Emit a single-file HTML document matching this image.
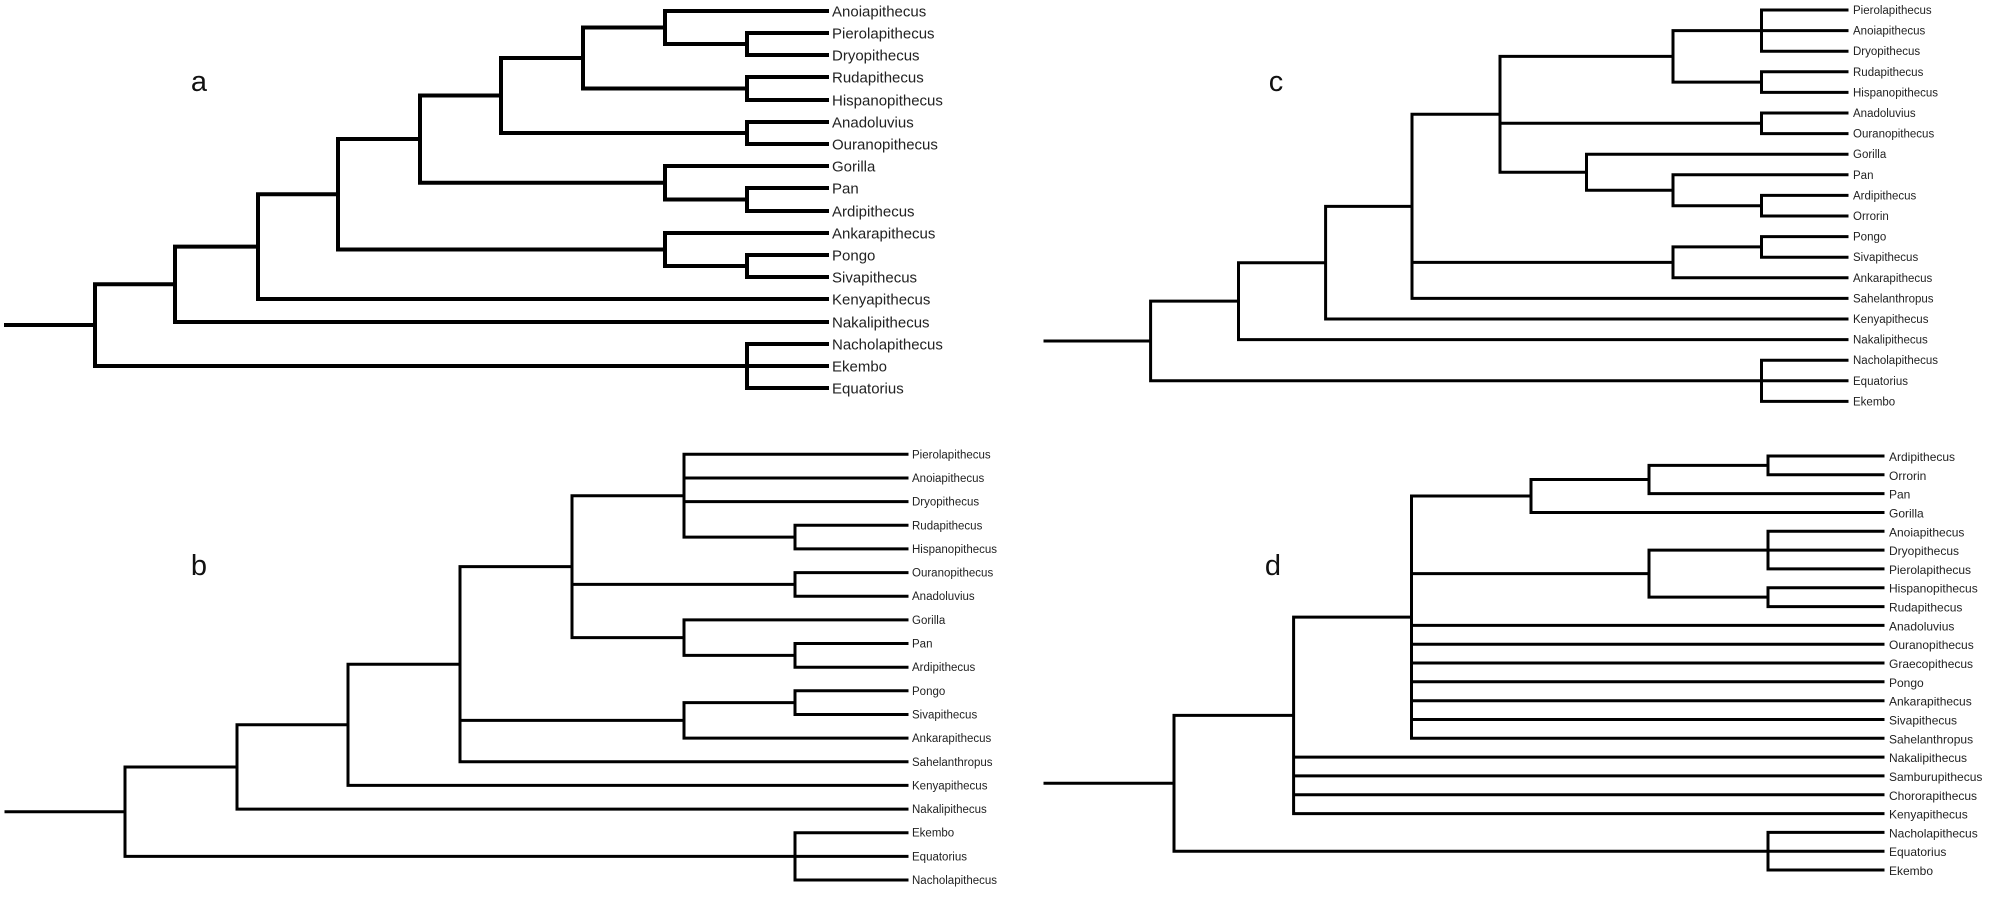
<!DOCTYPE html>
<html><head><meta charset="utf-8"><style>
html,body{margin:0;padding:0;background:#fff;}
svg{display:block;}
text{font-family:"Liberation Sans",Arial,sans-serif;fill:#222;dominant-baseline:central;}
.s{font-size:11.5px;fill:#333;}
.sd{font-size:12px;fill:#333;}
.l{font-size:15px;}
.p{font-size:29px;fill:#111;text-anchor:middle;}
</style></head><body>
<svg width="2004" height="899" viewBox="0 0 2004 899" xmlns="http://www.w3.org/2000/svg">
<g fill="none" stroke="#000" stroke-linecap="square">
<path stroke-width="4" d="
M6 325H95 M95 284.3V366 M95 284.3H175 M95 366H747
M175 246.6V322 M175 246.6H258 M175 322H827
M258 194.25V299 M258 194.25H338 M258 299H827
M338 139V249.5 M338 139H420 M338 249.5H665
M420 95.5V182.75 M420 95.5H501 M420 182.75H665
M501 58V133 M501 58H583 M501 133H747
M583 27.5V88.5 M583 27.5H665 M583 88.5H747
M665 11V44 M665 11H827 M665 44H747
M747 33V55 M747 33H827 M747 55H827
M747 77V100 M747 77H827 M747 100H827
M747 122V144 M747 122H827 M747 144H827
M665 166V199.5 M665 166H827 M665 199.5H747
M747 188V211 M747 188H827 M747 211H827
M665 233V266 M665 233H827 M665 266H747
M747 255V277 M747 255H827 M747 277H827
M747 344V388 M747 344H827 M747 366H827 M747 388H827"/>
<path stroke-width="3" d="
M1045 341H1150.6 M1150.6 301.15V380.8 M1150.6 301.15H1238.5 M1150.6 380.8H1761.5
M1238.5 262.7V339.6 M1238.5 262.7H1325.6 M1238.5 339.6H1847
M1325.6 206.35V319 M1325.6 206.35H1412 M1325.6 319H1847
M1412 114.3V298.4 M1412 114.3H1500 M1412 262.35H1673 M1412 298.4H1847
M1500 56.35V172.2 M1500 56.35H1673 M1500 123.3H1761.5 M1500 172.2H1586.5
M1673 30.6V82.1 M1673 30.6H1761.5 M1673 82.1H1761.5
M1761.5 10V51.2 M1761.5 10H1847 M1761.5 30.6H1847 M1761.5 51.2H1847
M1761.5 71.8V92.4 M1761.5 71.8H1847 M1761.5 92.4H1847
M1761.5 113V133.6 M1761.5 113H1847 M1761.5 133.6H1847
M1586.5 154.2V190.25 M1586.5 154.2H1847 M1586.5 190.25H1673
M1673 174.8V205.7 M1673 174.8H1847 M1673 205.7H1761.5
M1761.5 195.4V216 M1761.5 195.4H1847 M1761.5 216H1847
M1673 246.9V277.8 M1673 246.9H1761.5 M1673 277.8H1847
M1761.5 236.6V257.2 M1761.5 236.6H1847 M1761.5 257.2H1847
M1761.5 360.2V401.4 M1761.5 360.2H1847 M1761.5 380.8H1847 M1761.5 401.4H1847"/>
<path stroke-width="3" d="
M6 811.7H125 M125 767V856.4 M125 767H237 M125 856.4H795
M237 724.8V809.1 M237 724.8H348 M237 809.1H907
M348 664.2V785.4 M348 664.2H460 M348 785.4H907
M460 566.65V761.8 M460 566.65H572 M460 720.4H684 M460 761.8H907
M572 495.7V637.6 M572 495.7H684 M572 584.4H795 M572 637.6H684
M684 454.3V537.1 M684 454.3H907 M684 478H907 M684 501.6H907 M684 537.1H795
M795 525.3V548.9 M795 525.3H907 M795 548.9H907
M795 572.6V596.2 M795 572.6H907 M795 596.2H907
M684 619.9V655.35 M684 619.9H907 M684 655.35H795
M795 643.5V667.2 M795 643.5H907 M795 667.2H907
M684 702.65V738.1 M684 702.65H795 M684 738.1H907
M795 690.8V714.5 M795 690.8H907 M795 714.5H907
M795 832.7V880 M795 832.7H907 M795 856.4H907 M795 880H907"/>
<path stroke-width="3" d="
M1045 783.3H1174 M1174 715.4V851.2 M1174 715.4H1293.6 M1174 851.2H1768
M1293.6 617.15V813.6 M1293.6 617.15H1411.5 M1293.6 757.1H1883 M1293.6 775.9H1883 M1293.6 794.8H1883 M1293.6 813.6H1883
M1411.5 496V738.3 M1411.5 496H1531 M1411.5 573.6H1649 M1411.5 625.4H1883 M1411.5 644.2H1883 M1411.5 663H1883 M1411.5 681.8H1883 M1411.5 700.7H1883 M1411.5 719.5H1883 M1411.5 738.3H1883
M1531 479.5V512.5 M1531 479.5H1649 M1531 512.5H1883
M1649 465.4V493.6 M1649 465.4H1768 M1649 493.6H1883
M1768 456V474.8 M1768 456H1883 M1768 474.8H1883
M1649 550.1V597.15 M1649 550.1H1768 M1649 597.15H1768
M1768 531.3V568.9 M1768 531.3H1883 M1768 550.1H1883 M1768 568.9H1883
M1768 587.7V606.6 M1768 587.7H1883 M1768 606.6H1883
M1768 832.4V870 M1768 832.4H1883 M1768 851.2H1883 M1768 870H1883"/>
</g>
<text class="p" x="199" y="82">a</text>
<text class="p" x="199" y="566">b</text>
<text class="p" x="1276" y="82">c</text>
<text class="p" x="1273" y="566">d</text>
<g class="l">
<text x="832" y="12">Anoiapithecus</text>
<text x="832" y="34">Pierolapithecus</text>
<text x="832" y="56">Dryopithecus</text>
<text x="832" y="78">Rudapithecus</text>
<text x="832" y="101">Hispanopithecus</text>
<text x="832" y="123">Anadoluvius</text>
<text x="832" y="145">Ouranopithecus</text>
<text x="832" y="167">Gorilla</text>
<text x="832" y="189">Pan</text>
<text x="832" y="212">Ardipithecus</text>
<text x="832" y="234">Ankarapithecus</text>
<text x="832" y="256">Pongo</text>
<text x="832" y="278">Sivapithecus</text>
<text x="832" y="300">Kenyapithecus</text>
<text x="832" y="323">Nakalipithecus</text>
<text x="832" y="345">Nacholapithecus</text>
<text x="832" y="367">Ekembo</text>
<text x="832" y="389">Equatorius</text>
</g>
<g class="s">
<text x="1853" y="11">Pierolapithecus</text>
<text x="1853" y="31.5">Anoiapithecus</text>
<text x="1853" y="52.2">Dryopithecus</text>
<text x="1853" y="72.8">Rudapithecus</text>
<text x="1853" y="93.4">Hispanopithecus</text>
<text x="1853" y="114">Anadoluvius</text>
<text x="1853" y="134.6">Ouranopithecus</text>
<text x="1853" y="155.2">Gorilla</text>
<text x="1853" y="175.8">Pan</text>
<text x="1853" y="196.4">Ardipithecus</text>
<text x="1853" y="217">Orrorin</text>
<text x="1853" y="237.6">Pongo</text>
<text x="1853" y="258.2">Sivapithecus</text>
<text x="1853" y="278.8">Ankarapithecus</text>
<text x="1853" y="299.4">Sahelanthropus</text>
<text x="1853" y="320">Kenyapithecus</text>
<text x="1853" y="340.6">Nakalipithecus</text>
<text x="1853" y="361.2">Nacholapithecus</text>
<text x="1853" y="381.8">Equatorius</text>
<text x="1853" y="402.4">Ekembo</text>
</g>
<g class="s">
<text x="912" y="455.3">Pierolapithecus</text>
<text x="912" y="479">Anoiapithecus</text>
<text x="912" y="502.6">Dryopithecus</text>
<text x="912" y="526.3">Rudapithecus</text>
<text x="912" y="549.9">Hispanopithecus</text>
<text x="912" y="573.6">Ouranopithecus</text>
<text x="912" y="597.2">Anadoluvius</text>
<text x="912" y="620.9">Gorilla</text>
<text x="912" y="644.5">Pan</text>
<text x="912" y="668.2">Ardipithecus</text>
<text x="912" y="691.8">Pongo</text>
<text x="912" y="715.5">Sivapithecus</text>
<text x="912" y="739.1">Ankarapithecus</text>
<text x="912" y="762.8">Sahelanthropus</text>
<text x="912" y="786.4">Kenyapithecus</text>
<text x="912" y="810.1">Nakalipithecus</text>
<text x="912" y="833.7">Ekembo</text>
<text x="912" y="857.4">Equatorius</text>
<text x="912" y="881">Nacholapithecus</text>
</g>
<g class="sd">
<text x="1889" y="457">Ardipithecus</text>
<text x="1889" y="475.8">Orrorin</text>
<text x="1889" y="494.6">Pan</text>
<text x="1889" y="513.5">Gorilla</text>
<text x="1889" y="532.3">Anoiapithecus</text>
<text x="1889" y="551.1">Dryopithecus</text>
<text x="1889" y="569.9">Pierolapithecus</text>
<text x="1889" y="588.7">Hispanopithecus</text>
<text x="1889" y="607.6">Rudapithecus</text>
<text x="1889" y="626.4">Anadoluvius</text>
<text x="1889" y="645.2">Ouranopithecus</text>
<text x="1889" y="664">Graecopithecus</text>
<text x="1889" y="682.8">Pongo</text>
<text x="1889" y="701.7">Ankarapithecus</text>
<text x="1889" y="720.5">Sivapithecus</text>
<text x="1889" y="739.3">Sahelanthropus</text>
<text x="1889" y="758.1">Nakalipithecus</text>
<text x="1889" y="776.9">Samburupithecus</text>
<text x="1889" y="795.8">Chororapithecus</text>
<text x="1889" y="814.6">Kenyapithecus</text>
<text x="1889" y="833.4">Nacholapithecus</text>
<text x="1889" y="852.2">Equatorius</text>
<text x="1889" y="871">Ekembo</text>
</g>
</svg>
</body></html>
